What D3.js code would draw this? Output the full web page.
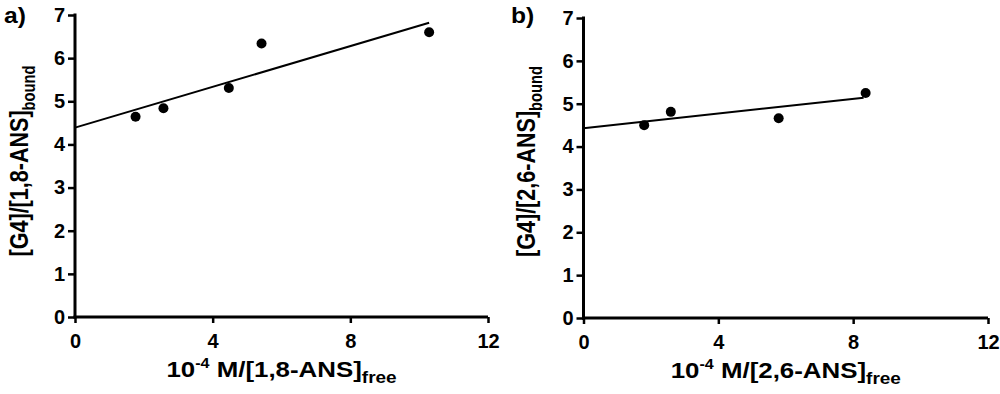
<!DOCTYPE html>
<html><head><meta charset="utf-8">
<script src="https://cdn.jsdelivr.net/npm/d3@7"></script>
<style>
html,body{margin:0;padding:0;background:#fff;}
svg text{font-family:"Liberation Sans",Arial,sans-serif;font-weight:bold;fill:#000;}
</style></head>
<body>
<svg id="chart" width="1000" height="394"></svg>
<script>
// Panel a) 1,8-ANS
const xA = [1.76, 2.57, 4.47, 5.42, 10.29];
const yA = [4.64, 4.84, 5.31, 6.34, 6.60];
const fitA = [[0, 4.39], [10.29, 6.82]];
// Panel b) 2,6-ANS
const xB = [1.80, 2.59, 5.79, 8.37];
const yB = [4.50, 4.81, 4.66, 5.25];
const fitB = [[0, 4.43], [8.31, 5.14]];
// Ticks
const xTicks = [0, 4, 8, 12];
const yTicks = [0, 1, 2, 3, 4, 5, 6, 7];

const svg = d3.select("#chart");

function panel(o) {
  const x = d3.scaleLinear().domain([0, 12]).range([o.x0, o.x1]);
  const y = d3.scaleLinear().domain([0, 7]).range([o.y0, o.y1]);
  const g = svg.append("g");

  const xa = g.append("g").attr("transform", `translate(0,${o.y0})`)
    .call(d3.axisBottom(x).tickValues(xTicks).tickSize(6).tickPadding(11).tickFormat(d3.format("d")));
  const ya = g.append("g").attr("transform", `translate(${o.x0},0)`)
    .call(d3.axisLeft(y).tickValues(yTicks).tickSize(7).tickPadding(3).tickFormat(d3.format("d")));
  [xa, ya].forEach(a => {
    a.select(".domain").attr("stroke", "#000").attr("stroke-width", 3).attr("d",
      a === xa ? `M${o.x0 - 1.5},0H${o.x1}` : `M0,${o.y0 + 1.5}V${o.y1 - 1.5}`);
    a.selectAll(".tick line").attr("stroke", "#000").attr("stroke-width", 2.5);
    a.selectAll(".tick text").attr("font-size", 20).attr("font-family", "Liberation Sans, Arial, sans-serif").attr("font-weight", "bold");
  });

  g.append("line")
    .attr("x1", x(o.fit[0][0])).attr("y1", y(o.fit[0][1]))
    .attr("x2", x(o.fit[1][0])).attr("y2", y(o.fit[1][1]))
    .attr("stroke", "#000").attr("stroke-width", 2);

  g.selectAll("circle.pt").data(o.xs.map((v, i) => [v, o.ys[i]])).enter()
    .append("circle").attr("class", "pt")
    .attr("cx", d => x(d[0])).attr("cy", d => y(d[1])).attr("r", 5).attr("fill", "#000");

  // x title (horizontally stretched like the reference)
  const xt = g.append("text")
    .attr("transform", `translate(${(o.x0 + o.x1) / 2},${o.xTitleY}) scale(1.15,1)`)
    .attr("text-anchor", "middle").attr("font-size", 22.5);
  xt.append("tspan").text("10");
  xt.append("tspan").attr("font-size", 14).attr("dy", -9).text("-4");
  xt.append("tspan").attr("dy", 9).text(" M/[" + o.name + "]");
  xt.append("tspan").attr("font-size", 16.5).attr("dy", 6).text("free");

  // y title
  const yt = g.append("text")
    .attr("transform", `translate(${o.yTitleX},${o.yTitleC}) rotate(-90) scale(0.98,1.2)`)
    .attr("text-anchor", "middle").attr("font-size", 22);
  yt.append("tspan").text("[G4]/[" + o.name + "]");
  yt.append("tspan").attr("font-size", 15).attr("dy", 6).text("bound");

  g.append("text").attr("transform", `translate(${o.labelX},23) scale(1.12,1)`)
    .attr("font-size", 22).text(o.label);
}

panel({x0: 75, x1: 488, y0: 317, y1: 15, xs: xA, ys: yA, fit: fitA, name: "1,8-ANS",
       xTitleY: 377, yTitleX: 28, yTitleC: 161, label: "a)", labelX: 4});
panel({x0: 583.5, x1: 988, y0: 318, y1: 18, xs: xB, ys: yB, fit: fitB, name: "2,6-ANS",
       xTitleY: 378, yTitleX: 535, yTitleC: 161.5, label: "b)", labelX: 511});
</script>
</body></html>
